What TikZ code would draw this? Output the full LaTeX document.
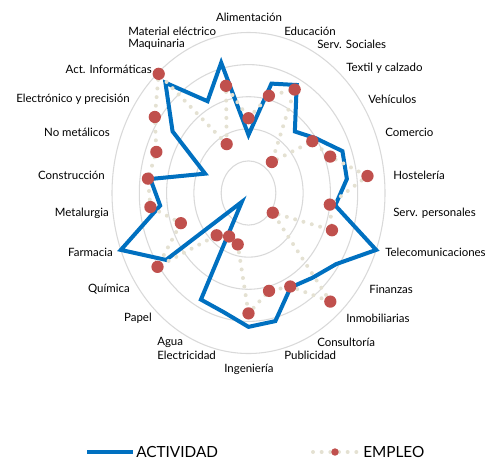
\documentclass[tikz,border=0pt]{standalone}
\usepackage{fontspec}
\setmainfont{Lato}
\definecolor{actblue}{HTML}{0070C0}
\definecolor{empred}{HTML}{C0504D}
\definecolor{empdot}{HTML}{E4E1D2}
\definecolor{ringgray}{HTML}{D9D9D9}

\begin{document}
\begin{tikzpicture}[x=0.75pt,y=-0.75pt,
  ring/.style={ringgray,line width=0.8pt},
  actividad/.style={actblue,line width=3pt},
  empleo/.style={empdot,line width=3pt,line cap=round,dash pattern=on 0pt off 6.5pt},
  lab/.style={inner sep=0pt,font=\fontsize{8.6}{10}\selectfont},
  leg/.style={inner sep=0pt,font=\fontsize{11.5}{13}\selectfont}]

\useasboundingbox (0,0) rectangle (495,461);

\coordinate (c) at (248.5,193);
\foreach \j in {1,...,5}
{
\draw[ring] (c) ellipse ({\j*27.3*0.75pt} and {\j*32.1*0.75pt});
}

\foreach \i/\a/\e in {0/1.81/2.33,1/3.51/3.12,2/3.80/3.64,3/2.56/1.29,4/3.00/2.84,5/3.68/3.20,
  6/3.63/4.39,7/3.20/3.00,8/5.00/3.27,9/3.90/1.08,10/3.53/4.52,11/3.32/3.29,12/4.11/3.14,
  13/4.17/3.75,14/3.82/1.65,15/3.75/1.53,16/0.37/1.76,17/3.67/4.05,18/5.00/2.65,19/3.26/3.62,
  20/3.62/3.71,21/1.70/3.61,22/3.38/4.17,23/4.59/4.96,24/3.23/1.72,25/4.18/3.44}
{
\coordinate (a\i) at ({248.5+\a*27.3*sin(\i*360/26)},{193-\a*32.1*cos(\i*360/26)});
\coordinate (e\i) at ({248.5+\e*27.3*sin(\i*360/26)},{193-\e*32.1*cos(\i*360/26)});
}

\draw[actividad] (a0) \foreach \i in {1,...,25}{ -- (a\i)} -- cycle;
\draw[empleo] (e0) \foreach \i in {1,...,25}{ -- (e\i)} -- cycle;
\foreach \i in {0,...,25}
{
\fill[empred] (e\i) circle (4.6pt);
}

\node[lab] (l0) at (249,17) {Alimentación};
\node[lab,anchor=west] (l1) at (284,31) {Educación};
\node[lab,anchor=west] (l2) at (317,44) {Serv. Sociales};
\node[lab,anchor=west] (l3) at (346,68) {Textil y calzado};
\node[lab,anchor=west] (l4) at (368,99) {Vehículos};
\node[lab,anchor=west] (l5) at (385,132) {Comercio};
\node[lab,anchor=west] (l6) at (393,175) {Hostelería};
\node[lab,anchor=west] (l7) at (393,213) {Serv. personales};
\node[lab,anchor=west] (l8) at (385,252) {Telecomunicaciones};
\node[lab,anchor=west] (l9) at (369,289) {Finanzas};
\node[lab,anchor=west] (l10) at (346,318) {Inmobiliarias};
\node[lab,anchor=west] (l11) at (317,342) {Consultoría};
\node[lab,anchor=west] (l12) at (284,355) {Publicidad};
\node[lab] (l13) at (249,369) {Ingeniería};
\node[lab,anchor=west] (l14) at (157,355) {Electricidad};
\node[lab,anchor=west] (l15) at (157,342) {Agua};
\node[lab,anchor=east] (l16) at (152,318) {Papel};
\node[lab,anchor=east] (l17) at (130,289) {Química};
\node[lab,anchor=east] (l18) at (113,252) {Farmacia};
\node[lab,anchor=east] (l19) at (109,213) {Metalurgia};
\node[lab,anchor=east] (l20) at (105,175) {Construcción};
\node[lab,anchor=east] (l21) at (110,132) {No metálicos};
\node[lab,anchor=east] (l22) at (130,99) {Electrónico y precisión};
\node[lab,anchor=east] (l23) at (152,69) {Act. Informáticas};
\node[lab,anchor=west] (l24) at (128,44) {Maquinaria};
\node[lab,anchor=west] (l25) at (128,31) {Material eléctrico};

\coordinate (la) at (87,452);
\coordinate (lb) at (133,452);
\draw[actividad] (la) -- (lb);
\node[leg,anchor=west] (lact) at (136,452) {ACTIVIDAD};
\coordinate (lc) at (313,452);
\coordinate (ld) at (357,452);
\coordinate (le) at (335,452);
\draw[empleo] (lc) -- (ld);
\fill[empred] (le) circle (2.8pt);
\node[leg,anchor=west] (lemp) at (363,452) {EMPLEO};
\end{tikzpicture}
\end{document}
